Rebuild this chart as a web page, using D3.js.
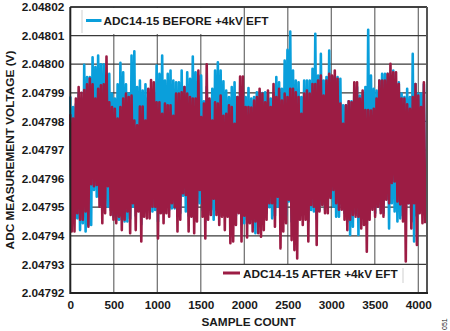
<!DOCTYPE html>
<html>
<head>
<meta charset="utf-8">
<script src="https://cdn.jsdelivr.net/npm/d3@7"></script>
<style>
  html, body { margin: 0; padding: 0; background: #fff; }
  svg { display: block; }
  text { font-family: "Liberation Sans", Arial, Helvetica, sans-serif; font-weight: bold; fill: #1a1a1a; }
</style>
</head>
<body>
<svg id="chart" width="450" height="331"></svg>
<script>
// ---------------- DATA ----------------
// Voltage readings are stored as microvolts above BASE_V (volts).
const BASE_V = 2.0479;
const SAMPLE_STEP = 16;

const seriesNames = ["ADC14-15 BEFORE +4kV EFT", "ADC14-15 AFTER +4kV EFT"];

const beforeUV = [
  88.7,42, 85,46, 86,46.1, 90,42, 88,44.4, 99.8,41.5, 95.5,43.8, 95.5,43.8, 102.4,56, 99,53.7,
  103,53.7, 100,49, 100,50.2, 96,50.2, 96.6,49, 89.7,46.7, 88,45.6, 93,45.6, 100.5,45.6, 97.2,45,
  93,45, 89.7,46, 103,50.2, 104.5,47, 92,50, 94.3,44, 90.8,49, 93,48, 88.5,49, 90,48.5,
  90,49, 99.5,45, 96.6,49, 103,48, 94.3,50.2, 96.6,49, 97.8,49.6, 94.3,49.6, 93.7,47, 93.7,48,
  97.8,54, 92,48.5, 97.2,47, 94.9,48, 102.7,46, 97.2,50, 96,51.4, 96,49, 87,45, 92,48,
  87.3,49, 91.4,45.6, 97.8,49, 100.7,47, 97.8,49, 94,47, 90.8,49, 88.5,44, 92,45, 93.7,47,
  88.5,49, 90.2,44, 90,44.4, 88.5,45.6, 91.7,47, 88,46, 88.5,40.9, 90.2,45, 90.2,44, 89.9,46,
  90.2,48, 90,50, 88,46.1, 89.7,47, 95.5,50.2, 93.7,44, 91.4,46, 101.3,47, 105,52, 111.4,45,
  97.8,44, 94.3,46, 93.7,48, 88.5,47, 94.3,48, 94.3,45, 94.3,49, 98.4,48.5, 110.6,46, 96,49,
  103.6,51, 94.3,49, 95.5,50, 104.8,54, 95.5,50.2, 95.5,46.7, 95.5,46.7, 94.9,51, 85.6,48, 85.6,45,
  87,40.3, 87,43.2, 89.7,48, 92,40.3, 89,46, 89.7,46, 92,44, 112,48, 96,50, 91.4,48,
  90.8,51, 94.3,49, 96.6,48, 96.6,53, 96.6,42.6, 95.5,51.4, 97.8,48.5, 93.1,45, 93.7,46.1, 89.7,47,
  88.5,49, 91.4,51.4, 88.5,45, 103.6,38, 93.1,47, 89.7,49, 89.7,49, 93,47
];

const afterUV = [
  82.5,41.5, 81,41.5, 88,47.9, 92,45.6, 90,45.6, 91,48.5, 93,43.2, 95,58, 93,57.3, 88,57.8,
  91.4,50.2, 92.6,44.4, 93,47.9, 102.7,57.3, 86.7,47.3, 85,45.6, 84.4,44.4, 81,46.7, 85,42, 88,45.6,
  89.7,48.5, 88.5,40.9, 89,51.4, 80.3,42, 78.6,48.5, 85.2,38, 85.2,46.7, 80.3,46.1, 91.4,46.1, 94.5,50.2,
  93.7,50.2, 86.7,39.1, 86.7,47.9, 82.7,44.4, 86.2,47.9, 85.6,46.7, 85.6,51.4, 82,50, 89.7,41.5, 89.7,45.6,
  90.2,54.9, 92,54.3, 89.7,41.5, 88.5,46.7, 88,40.9, 88,45, 97.8,56, 81.5,46.7, 86.2,39.1, 100,45.6,
  88,47.3, 80.3,53, 86.7,47.3, 86.2,43.8, 89,46.7, 82,42, 82.7,46.7, 85.6,37.4, 85,38, 79.2,43.8,
  88.5,47.9, 95.7,38, 95.7,47, 85,39.4, 85,44.4, 84.8,41.5, 87.3,45, 88.5,40.9, 91.4,39.7, 89.7,42,
  86.7,45.6, 90.8,51.4, 85,51.4, 93.1,43.2, 88.5,53.7, 91.4,35.6, 87.3,41.5, 89.7,44.4, 88.5,52.6, 91.4,38.5,
  91.4,35, 90.2,32.1, 88.5,45.6, 82.7,43.8, 89.7,45.6, 90.8,38, 89.7,50.8, 93.1,50.2, 93.1,36.8, 94.3,48.5,
  96,50.8, 89,47.9, 94.3,47.9, 96.6,53.2, 96,56, 97.8,51.4, 94.9,49.1, 86.2,49.1, 79.2,45.6, 85.6,42,
  87,45.6, 86.7,47.3, 93.7,46.7, 93.7,46.7, 88,42.6, 90.8,43.8, 84,34.4, 84,45.6, 83.8,49.1, 84.4,46.7,
  88,50.2, 94.3,47.9, 94.3,46.7, 94.3,52.6, 96.6,51.4, 100.1,58.5, 97.2,59, 97.2,52, 93.1,51, 88,45,
  88,31, 86,51.4, 84.4,42.6, 88.5,51.4, 93.1,36.8, 89,47.9, 85,44.4, 93.7,44.4
];

const xTickValues = [0, 500, 1000, 1500, 2000, 2500, 3000, 3500, 4000];
const yTickValues = [2.04792, 2.04793, 2.04794, 2.04795, 2.04796, 2.04797, 2.04798, 2.04799, 2.04800, 2.04801, 2.04802];

// ---------------- CHART ----------------
(function () {
const svg = d3.select("#chart");
const pL = 70.3, pR = 427, pT = 7, pB = 293;
const BLUE = "#0a9fdb", CRIMSON = "#9c1c44";

const x = d3.scaleLinear().domain([0, 4100]).range([pL, pR]);
const y = d3.scaleLinear().domain([2.04792, 2.04802]).range([pB, pT]);

const toPoints = arr => arr.map((u, i) => ({ s: i * SAMPLE_STEP, v: BASE_V + u * 1e-6 }));
const before = toPoints(beforeUV);
const after = toPoints(afterUV);

// gridlines
svg.append("g").selectAll("line").data(xTickValues.filter(d => d > 0)).join("line")
  .attr("x1", d => x(d)).attr("x2", d => x(d))
  .attr("y1", pT).attr("y2", pB)
  .attr("stroke", "#6a6a6a").attr("stroke-width", 1.2);
svg.append("g").selectAll("line").data(yTickValues).join("line")
  .attr("x1", pL).attr("x2", pR)
  .attr("y1", d => y(d)).attr("y2", d => y(d))
  .attr("stroke", "#3a3a3a").attr("stroke-width", 1.3);

// data lines
const line = d3.line().x(d => x(d.s)).y(d => y(d.v));
svg.append("path").datum(before).attr("d", line)
  .attr("fill", "none").attr("stroke", BLUE).attr("stroke-width", 2.6).attr("stroke-linejoin", "round");
svg.append("path").datum(after).attr("d", line)
  .attr("fill", "none").attr("stroke", CRIMSON).attr("stroke-width", 2.6).attr("stroke-linejoin", "round");

// frame
svg.append("line").attr("x1", pL).attr("x2", pR).attr("y1", pT).attr("y2", pT)
  .attr("stroke", "#333").attr("stroke-width", 1.5);
svg.append("line").attr("x1", pR).attr("x2", pR).attr("y1", pT).attr("y2", pB)
  .attr("stroke", "#555").attr("stroke-width", 2);
svg.append("line").attr("x1", pL).attr("x2", pL).attr("y1", pT).attr("y2", pB + 1)
  .attr("stroke", "#222").attr("stroke-width", 2);
svg.append("line").attr("x1", pL).attr("x2", pR + 1).attr("y1", pB).attr("y2", pB)
  .attr("stroke", "#222").attr("stroke-width", 2);

// axes labels
const yAxis = d3.axisLeft(y).tickValues(yTickValues).tickFormat(d3.format(".5f")).tickSize(0).tickPadding(6);
const gy = svg.append("g").attr("transform", `translate(${pL},0)`).call(yAxis);
gy.select(".domain").remove();
gy.selectAll("text").attr("font-size", "11.8px").attr("fill", "#1a1a1a")
  .style("font-family", '"Liberation Sans", Arial, sans-serif').style("font-weight", "bold");

const xAxis = d3.axisBottom(x).tickValues(xTickValues).tickFormat(d3.format("d")).tickSize(0).tickPadding(8);
const gx = svg.append("g").attr("transform", `translate(0,${pB})`).call(xAxis);
gx.select(".domain").remove();
gx.selectAll("text").attr("font-size", "11.8px").attr("fill", "#1a1a1a")
  .style("font-family", '"Liberation Sans", Arial, sans-serif').style("font-weight", "bold");

svg.append("text").attr("x", (pL + pR) / 2).attr("y", 326)
  .attr("text-anchor", "middle").attr("font-size", "11.8px").text("SAMPLE COUNT");
svg.append("text").attr("transform", `translate(14,${(pT + pB) / 2}) rotate(-90)`)
  .attr("text-anchor", "middle").attr("font-size", "11.8px").text("ADC MEASUREMENT VOLTAGE (V)");

// legend top
svg.append("rect").attr("x", 82).attr("y", 8).attr("width", 159).attr("height", 26).attr("fill", "#fff");
svg.append("line").attr("x1", 82).attr("x2", 82).attr("y1", 10).attr("y2", 33).attr("stroke", "#cfcfcf").attr("stroke-width", 1);
svg.append("line").attr("x1", 86).attr("x2", 101.5).attr("y1", 20.5).attr("y2", 20.5)
  .attr("stroke", BLUE).attr("stroke-width", 3);
svg.append("text").attr("x", 103.5).attr("y", 25).attr("font-size", "11.8px").text(seriesNames[0]);

// legend bottom
svg.append("rect").attr("x", 205).attr("y", 265).attr("width", 198).attr("height", 27).attr("fill", "#fff");
svg.append("line").attr("x1", 403).attr("x2", 403).attr("y1", 268).attr("y2", 283).attr("stroke", "#cfcfcf").attr("stroke-width", 1);
svg.append("line").attr("x1", 223).attr("x2", 240).attr("y1", 273).attr("y2", 273)
  .attr("stroke", CRIMSON).attr("stroke-width", 3);
svg.append("text").attr("x", 243).attr("y", 277.5).attr("font-size", "11.8px").text(seriesNames[1]);

// figure id
svg.append("text").attr("transform", "translate(447,330) rotate(-90)")
  .attr("font-size", "7px").style("font-weight", "normal").attr("fill", "#333").text("051");
})();
</script>
</body>
</html>
